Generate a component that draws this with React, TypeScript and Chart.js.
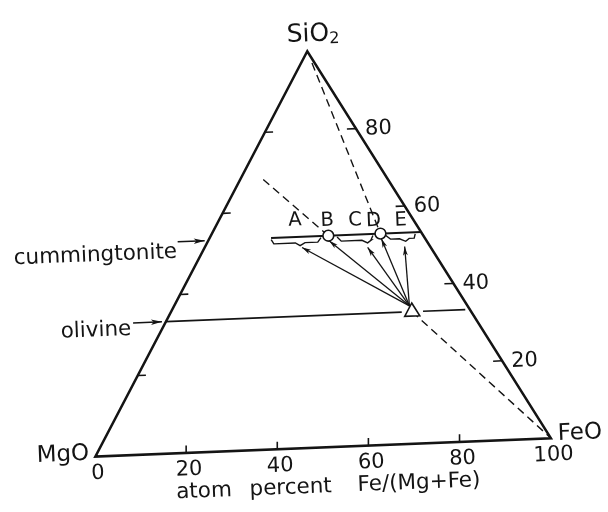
import React, { useEffect, useRef } from "react";
import { Chart, registerables } from "chart.js";

Chart.register(...registerables);

// ---------------- data (mole %, SiO2–MgO–FeO ternary) ----------------
// Tick positions along every side (percent)
const tickPercents = [20, 40, 60, 80];
const baseTickValues = [0, 20, 40, 60, 80, 100];
const baseTickLabels = ["0", "20", "40", "60", "80", "100"];
const rightTickLabels = ["20", "40", "60", "80"];
const axisTitleParts = ["atom", "percent", "Fe/(Mg+Fe)"];
const axisTitleAt = [17.4, 33.5, 57.2]; // position along the base, % Fe/(Mg+Fe)

// Phase lines: constant SiO2, ranges in Fe/(Mg+Fe)
const olivineSiO2 = 33.3;
const olivineFeSegments = [
  [0.0, 0.776],
  [0.846, 0.985],
];
const cummingtoniteSiO2 = 53.3;
const cummingtoniteFeRange = [0.295, 1.0];

// Bulk (triangle) composition
const bulkSiO2 = 33.3;
const bulkFe = 0.81;

// Cummingtonite compositions B and D (open circles)
const circleFe = [0.564, 0.809];

// Letter labels
const letterNames = ["A", "B", "C", "D", "E"];
const letterFe = [0.401, 0.567, 0.709, 0.8, 0.935];
const letterSiO2 = [57.5, 57.1, 56.9, 56.6, 56.4];

// Arrows from the bulk composition to the cummingtonite ranges
const arrowTailSiO2 = 34.8;
const arrowTailFe = 0.809;
const arrowTipFe = [0.442, 0.565, 0.73, 0.804, 0.891];
const arrowTipSiO2 = [50.6, 52.0, 49.95, 52.0, 49.8];

// Braces under the cummingtonite line (Fe/(Mg+Fe))
const braceStartFe = [0.297, 0.604, 0.828];
const braceMidFe = [0.433, 0.736, 0.907];
const braceEndFe = [0.529, 0.771, 0.968];
const braceEndSiO2 = 52.9;
const braceBarSiO2 = 51.8;
const braceTipSiO2 = 51.1;

// Dashed joins: [SiO2, Fe/(Mg+Fe)]
const silicaJoin = [
  [97, 0.809],
  [53.3, 0.809],
];
const bExtension = [
  [53.3, 0.564],
  [68.5, 0.147],
];
const feoJoin = [
  [33.3, 0.81],
  [0, 1],
];

// Label arrows (outside the triangle, Fe/(Mg+Fe) < 0)
const cummingtoniteArrowFe = [-0.144, -0.017];
const olivineArrowFe = [-0.108, -0.013];

// ---------------- layout / style ----------------
const W = 608;
const H = 512;
const TILT = (2.3 * Math.PI) / 180; // scan rotation
const KX = 4.72;
const KY = 4.77;
const ORIGIN_X = 88;
const ORIGIN_Y = 465;
const X_MIN = -ORIGIN_X / KX;
const X_MAX = X_MIN + W / KX;
const Y_MAX = ORIGIN_Y / KY;
const Y_MIN = Y_MAX - H / KY;
const INK = "#141414";
const FONT = '"DejaVu Sans", "Liberation Sans", sans-serif';
const SQ = Math.sqrt(3) / 2;

function ptFe(si: number, fe: number) {
  const x0 = fe + si / 2;
  const y0 = si * SQ;
  return {
    x: x0 * Math.cos(TILT) - y0 * Math.sin(TILT),
    y: x0 * Math.sin(TILT) + y0 * Math.cos(TILT),
  };
}
function pt(si: number, ratio: number) {
  return ptFe(si, (100 - si) * ratio);
}

function line(points: any[], extra: any = {}) {
  return {
    data: points,
    showLine: true,
    pointRadius: 0,
    pointHoverRadius: 0,
    borderColor: INK,
    backgroundColor: INK,
    borderWidth: 1.4,
    tension: 0,
    fill: false,
    order: 10,
    ...extra,
  };
}

function buildDatasets() {
  const ds: any[] = [];
  // outline
  ds.push(
    line([ptFe(0, 0), ptFe(0, 100), ptFe(100, 0), ptFe(0, 0), ptFe(0, 100)], {
      borderWidth: 2.5,
      borderJoinStyle: "miter",
    })
  );
  // ticks
  tickPercents.forEach((s) => {
    ds.push(line([ptFe(s, 0), ptFe(s, 1.8)], { borderWidth: 1.6 }));
    ds.push(line([ptFe(s, 100 - s), ptFe(s, 100 - s - 2.0)], { borderWidth: 1.6 }));
    ds.push(line([ptFe(0, s), ptFe(1.9, s - 0.95)], { borderWidth: 1.6 }));
  });
  // olivine line
  olivineFeSegments.forEach(([a, b]) => {
    ds.push(line([pt(olivineSiO2, a), pt(olivineSiO2, b)], { borderWidth: 1.7 }));
  });
  // cummingtonite line
  ds.push(
    line([pt(cummingtoniteSiO2, cummingtoniteFeRange[0]), pt(cummingtoniteSiO2, cummingtoniteFeRange[1])], {
      borderWidth: 2.1,
    })
  );
  // braces
  braceStartFe.forEach((s, i) => {
    const m = braceMidFe[i];
    const e = braceEndFe[i];
    ds.push(
      line(
        [
          pt(braceEndSiO2, s),
          pt(braceBarSiO2, s + 0.016),
          pt(braceBarSiO2, m - 0.022),
          pt(braceTipSiO2, m),
          pt(braceBarSiO2, m + 0.022),
          pt(braceBarSiO2, e - 0.016),
          pt(braceEndSiO2, e),
        ],
        { borderWidth: 1.4 }
      )
    );
  });
  // dashed joins
  [silicaJoin, bExtension, feoJoin].forEach((j) => {
    ds.push(line(j.map(([s, r]) => pt(s, r)), { borderWidth: 1.4, borderDash: [8, 5] }));
  });
  // arrows
  arrowTipFe.forEach((r, i) => {
    ds.push(
      line([pt(arrowTailSiO2, arrowTailFe), pt(arrowTipSiO2[i], r)], {
        borderWidth: 1.3,
        arrowHead: true,
        arrowLen: 9,
        arrowWidth: 4.8,
      })
    );
  });
  ds.push(
    line([pt(cummingtoniteSiO2, cummingtoniteArrowFe[0]), pt(cummingtoniteSiO2, cummingtoniteArrowFe[1])], {
      borderWidth: 1.5,
      arrowHead: true,
      arrowLen: 11,
      arrowWidth: 5.5,
    })
  );
  ds.push(
    line([pt(olivineSiO2, olivineArrowFe[0]), pt(olivineSiO2, olivineArrowFe[1])], {
      borderWidth: 1.5,
      arrowHead: true,
      arrowLen: 11,
      arrowWidth: 5.5,
    })
  );
  // circles
  ds.push({
    data: circleFe.map((r) => pt(cummingtoniteSiO2, r)),
    showLine: false,
    pointRadius: 5.4,
    pointHoverRadius: 5.4,
    pointBackgroundColor: "#ffffff",
    pointBorderColor: INK,
    pointBorderWidth: 1.6,
    order: 0,
  });
  // triangle
  ds.push({
    data: [pt(bulkSiO2, bulkFe)],
    showLine: false,
    pointStyle: "triangle",
    pointRadius: 8.7,
    pointHoverRadius: 8.7,
    pointRotation: -2.3,
    pointBackgroundColor: "#ffffff",
    pointBorderColor: INK,
    pointBorderWidth: 1.6,
    order: 0,
  });
  return ds;
}

const arrowPlugin = {
  id: "arrowheads",
  afterDatasetsDraw(chart: any) {
    const ctx = chart.ctx;
    chart.data.datasets.forEach((ds: any, i: number) => {
      if (!ds.arrowHead) return;
      const meta = chart.getDatasetMeta(i);
      const n = meta.data.length;
      const a = meta.data[n - 2];
      const b = meta.data[n - 1];
      const ang = Math.atan2(b.y - a.y, b.x - a.x);
      const L = ds.arrowLen;
      const hw = ds.arrowWidth / 2;
      ctx.save();
      ctx.translate(b.x, b.y);
      ctx.rotate(ang);
      ctx.beginPath();
      ctx.moveTo(0, 0);
      ctx.lineTo(-L, hw);
      ctx.lineTo(-L * 0.75, 0);
      ctx.lineTo(-L, -hw);
      ctx.closePath();
      ctx.fillStyle = INK;
      ctx.fill();
      ctx.restore();
    });
  },
};

function toPx(chart: any, p: { x: number; y: number }) {
  return { x: chart.scales.x.getPixelForValue(p.x), y: chart.scales.y.getPixelForValue(p.y) };
}

function text(
  ctx: CanvasRenderingContext2D,
  s: string,
  at: { x: number; y: number },
  dx: number,
  dy: number,
  align: CanvasTextAlign,
  baseline: CanvasTextBaseline,
  size: number
) {
  ctx.save();
  ctx.translate(at.x, at.y);
  ctx.rotate(-TILT);
  ctx.font = `${size}px ${FONT}`;
  ctx.textAlign = align;
  ctx.textBaseline = baseline;
  ctx.fillStyle = INK;
  ctx.fillText(s, dx, dy);
  ctx.restore();
}

const textPlugin = {
  id: "ternaryText",
  afterDraw(chart: any) {
    const ctx: CanvasRenderingContext2D = chart.ctx;
    // vertices
    const apex = toPx(chart, ptFe(100, 0));
    ctx.save();
    ctx.font = `25px ${FONT}`;
    const w = ctx.measureText("SiO").width;
    ctx.restore();
    text(ctx, "SiO", apex, -20, -10, "left", "alphabetic", 25);
    text(ctx, "2", apex, -20 + w, -7, "left", "alphabetic", 16);
    text(ctx, "MgO", toPx(chart, ptFe(0, 0)), -6, 3, "right", "alphabetic", 23);
    text(ctx, "FeO", toPx(chart, ptFe(0, 100)), 7, 2, "left", "alphabetic", 23);
    // base tick labels
    baseTickValues.forEach((v, i) => {
      text(ctx, baseTickLabels[i], toPx(chart, ptFe(0, v)), 2, 17, "center", "middle", 21);
    });
    // right side labels
    tickPercents.forEach((s, i) => {
      text(ctx, rightTickLabels[i], toPx(chart, ptFe(s, 100 - s)), 9, 1, "left", "middle", 21);
    });
    // axis title
    axisTitleParts.forEach((t, i) => {
      text(ctx, t, toPx(chart, ptFe(0, axisTitleAt[i])), 0, 45, "left", "alphabetic", 21.5);
    });
    // letters
    letterNames.forEach((l, i) => {
      text(ctx, l, toPx(chart, pt(letterSiO2[i], letterFe[i])), 0, 0, "center", "middle", 19.5);
    });
    // phase labels
    text(ctx, "cummingtonite", toPx(chart, pt(cummingtoniteSiO2, cummingtoniteArrowFe[0])), -1, 16, "right", "alphabetic", 21.5);
    text(ctx, "olivine", toPx(chart, pt(olivineSiO2, olivineArrowFe[0])), -2, 12, "right", "alphabetic", 21.5);
  },
};

export default function App() {
  const ref = useRef<HTMLCanvasElement>(null);
  useEffect(() => {
    const canvas = ref.current;
    if (!canvas) return;
    const chart = new Chart(canvas, {
      type: "scatter",
      data: { datasets: buildDatasets() },
      options: {
        animation: false,
        responsive: false,
        events: [],
        layout: { padding: 0 },
        plugins: { legend: { display: false }, tooltip: { enabled: false } },
        scales: {
          x: { type: "linear", min: X_MIN, max: X_MAX, display: false },
          y: { type: "linear", min: Y_MIN, max: Y_MAX, display: false },
        },
      } as any,
      plugins: [arrowPlugin, textPlugin],
    });
    return () => chart.destroy();
  }, []);
  return (
    <div style={{ position: "fixed", left: 0, top: 0, width: W, height: H, background: "#ffffff" }}>
      <canvas ref={ref} width={W} height={H} style={{ display: "block" }} />
    </div>
  );
}
